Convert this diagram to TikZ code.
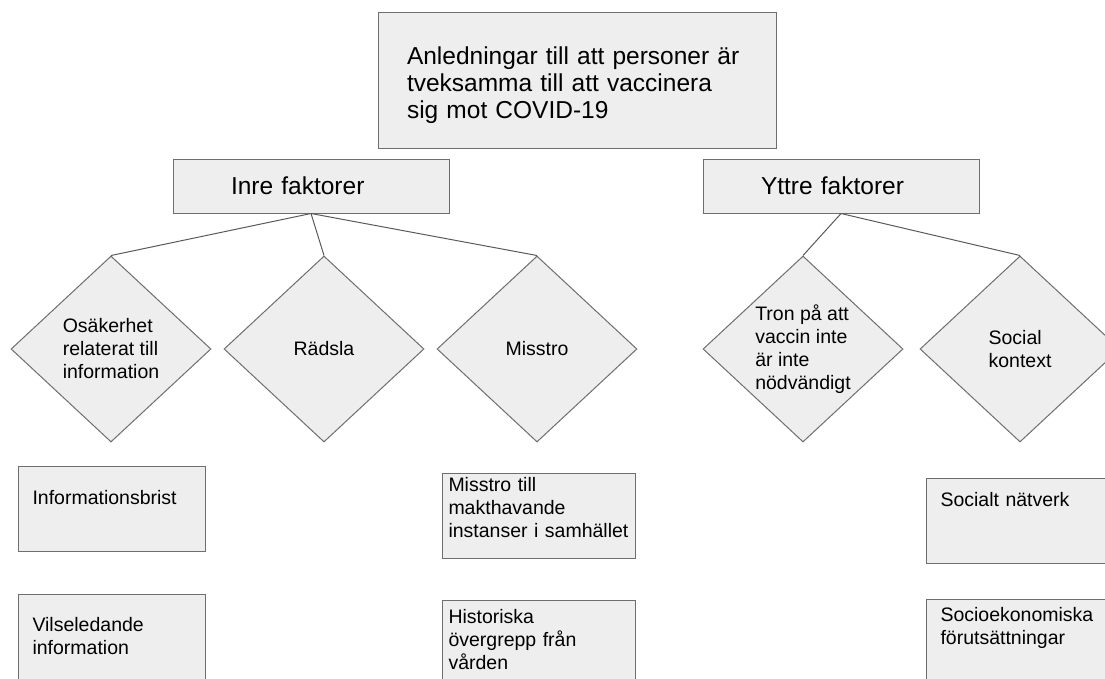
\documentclass[tikz,border=0pt]{standalone}
\usepackage{fontspec}
\setmainfont{Liberation Sans}
\setsansfont{Liberation Sans}
\usetikzlibrary{shapes,positioning}
\hyphenpenalty=10000
\definecolor{boxfill}{HTML}{EEEEEE}
\definecolor{boxline}{HTML}{6E6E6E}
\definecolor{wire}{HTML}{5A5A5A}
\tikzset{
  basic/.style  = {draw=boxline, line width=1pt, fill=boxfill, font=\sffamily, rectangle},
  root/.style   = {basic, align=left, text width=340pt, text height=28pt, minimum width=398pt, minimum height=136pt,
                   font=\sffamily\fontsize{24.5}{27}\selectfont},
  factor/.style = {basic, align=left, text width=160pt, inner xsep=58pt, minimum height=54pt,
                   font=\sffamily\fontsize{24.5}{27}\selectfont},
  reason/.style = {basic, diamond, align=left, inner sep=0pt, minimum width=200pt, minimum height=186pt,
                   font=\sffamily\fontsize{19.5}{23}\selectfont},
  detail/.style = {basic, align=left, anchor=north west, inner xsep=14pt, inner ysep=0pt,
                   text width=159pt, text height=#1, text depth=85pt-#1,
                   font=\sffamily\fontsize{19.5}{23}\selectfont},
  wide/.style   = {inner xsep=6pt, text width=181pt}
}

\begin{document}
\begin{tikzpicture}[x=1pt, y=-1pt]
\clip (0,0) rectangle (1105,678);

% root and the two groups of factors
\node[root] (top) at (577,80) {Anledningar till att personer är\\tveksamma till att vaccinera\\sig mot COVID-19};
\node[factor] (inre) at (311,186) {Inre faktorer};
\node[factor] (yttre) at (841,186) {Yttre faktorer};

% the reasons, relatively positioned diamonds
\node[reason] (c1) at (111,349) {Osäkerhet\\relaterat till\\information};
\node[reason, right=12pt of c1] (c2) {Rädsla};
\node[reason, right=12pt of c2] (c3) {Misstro};
\node[reason] (c4) at (803,349) {Tron på att\\vaccin inte\\är inte\\nödvändigt};
\node[reason, right=16pt of c4] (c5) {Social\\kontext};

\begin{scope}[draw=wire, line width=1pt]
\draw (inre.south) -- (c1.north);
\draw (inre.south) -- (c2.north);
\draw (inre.south) -- (c3.north);
\draw (yttre.south) -- (c4.north);
\draw (yttre.south) -- (c5.north);
\end{scope}

% the details below the reasons
\node[detail=38pt] (c11) at (18,466) {Informationsbrist};
\node[detail=37pt, below=42pt of c11.south west, anchor=north west] (c12) {Vilseledande\\information};

\node[detail=18pt, wide] (c31) at (442,473) {Misstro till\\makthavande\\instanser i samhället};
\node[detail=23pt, wide, below=41pt of c31.south west, anchor=north west] (c32) {Historiska\\övergrepp från\\vården};

\node[detail=28pt] (c51) at (926,478) {Socialt nätverk};
\node[detail=22pt, below=35pt of c51.south west, anchor=north west] (c52) {Socioekonomiska\\förutsättningar};
\end{tikzpicture}
\end{document}
